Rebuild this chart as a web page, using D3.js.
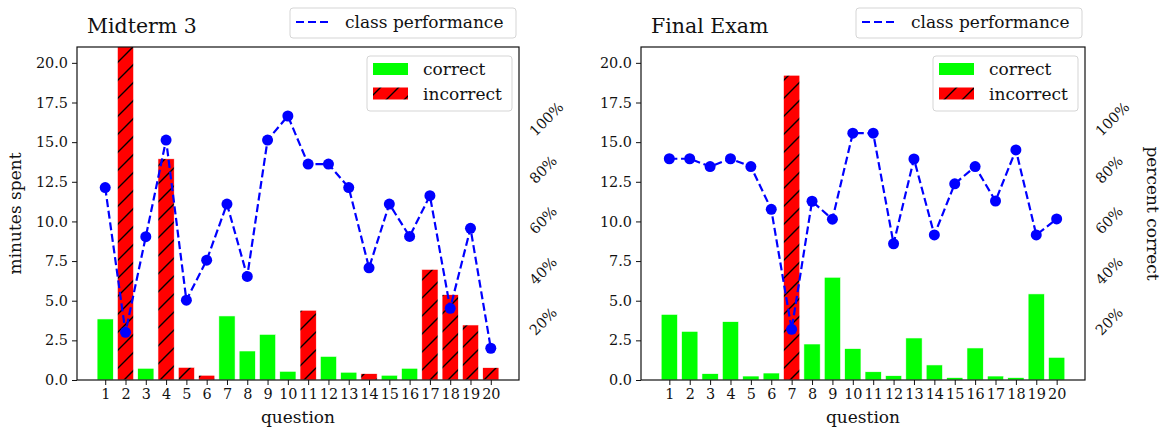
<!DOCTYPE html>
<html>
<head>
<meta charset="utf-8">
<script src="https://cdn.jsdelivr.net/npm/d3@7"></script>
<style>
  html, body { margin: 0; padding: 0; background: #fff; }
  svg { display: block; font-family: "DejaVu Serif", serif; }
</style>
</head>
<body>
<svg id="chart" width="1167" height="430"></svg>
<script>
// ---------------- data ----------------
const questions = d3.range(1, 21);
const midtermMinutes = [3.85, 24, 0.74, 13.95, 0.8, 0.3, 4.04, 1.83, 2.88, 0.55,
                        4.4, 1.49, 0.49, 0.4, 0.3, 0.74, 6.98, 5.38, 3.47, 0.78];
const midtermCorrect = [true, false, true, false, false, false, true, true, true, true,
                        false, true, true, false, true, true, false, false, false, false];
const midtermPct = [0.717, 0.145, 0.523, 0.905, 0.272, 0.43, 0.652, 0.366, 0.905, 1.0,
                    0.81, 0.81, 0.717, 0.40, 0.652, 0.524, 0.685, 0.24, 0.556, 0.082];
const finalMinutes = [4.14, 3.07, 0.4, 3.68, 0.25, 0.44, 19.22, 2.27, 6.48, 1.98,
                      0.52, 0.27, 2.65, 0.95, 0.15, 2.02, 0.25, 0.15, 5.43, 1.43];
const finalCorrect = [true, true, true, true, true, true, false, true, true, true,
                      true, true, true, true, true, true, true, true, true, true];
const finalPct = [0.831, 0.831, 0.80, 0.831, 0.80, 0.631, 0.157, 0.663, 0.592, 0.932,
                  0.932, 0.495, 0.83, 0.53, 0.732, 0.80, 0.664, 0.866, 0.53, 0.593];
const minuteTicks = [0, 2.5, 5, 7.5, 10, 12.5, 15, 17.5, 20];
const pctTicks = [0.2, 0.4, 0.6, 0.8, 1.0];
const titles = ["Midterm 3", "Final Exam"];
const legendLine = "class performance";
const legendBars = ["correct", "incorrect"];

// ---------------- layout ----------------
const svg = d3.select("#chart");
const plotTop = 47, plotBottom = 380;
const panels = [
  { left: 77, right: 519, title: titles[0], minutes: midtermMinutes, correct: midtermCorrect, pct: midtermPct, ylabel: "minutes spent", y2label: null },
  { left: 641, right: 1085, title: titles[1], minutes: finalMinutes, correct: finalCorrect, pct: finalPct, ylabel: null, y2label: "percent correct" }
];
const GREEN = "#00ff00", RED = "#ff0000", BLUE = "#0000ff";
const tickFont = "14.4px", labelFont = "17px";
const TXT = "#111";

// hatch pattern
const defs = svg.append("defs");
const pat = defs.append("pattern").attr("id", "hatch")
  .attr("patternUnits", "userSpaceOnUse").attr("width", 18).attr("height", 18);
pat.append("rect").attr("width", 18).attr("height", 18).attr("fill", RED);
pat.append("path").attr("d", "M-4.5,4.5 L4.5,-4.5 M0,18 L18,0 M13.5,22.5 L22.5,13.5")
  .attr("stroke", "#000").attr("stroke-width", 1.4);

panels.forEach((p, pi) => {
  const x = d3.scaleLinear().domain([-0.39, 21.39]).range([p.left, p.right]);
  const y = d3.scaleLinear().domain([0, 21]).range([plotBottom, plotTop]);
  const y2 = d3.scaleLinear().domain([-0.0435, 1.2727]).range([plotBottom, plotTop]);
  const g = svg.append("g");

  const clipId = "clip" + pi;
  defs.append("clipPath").attr("id", clipId).append("rect")
    .attr("x", p.left).attr("y", plotTop).attr("width", p.right - p.left).attr("height", plotBottom - plotTop);

  // bars
  const bw = x(0.8) - x(0);
  g.append("g").attr("clip-path", `url(#${clipId})`)
    .selectAll("rect").data(questions).join("rect")
    .attr("x", d => x(d) - bw / 2)
    .attr("width", bw)
    .attr("y", (d, i) => y(p.minutes[i]))
    .attr("height", (d, i) => y(0) - y(p.minutes[i]))
    .attr("fill", (d, i) => p.correct[i] ? GREEN : "url(#hatch)")
    .attr("stroke", "#fff").attr("stroke-width", 0.6);

  // left axis
  const yAxis = d3.axisLeft(y).tickValues(minuteTicks).tickFormat(d3.format(".1f")).tickSizeOuter(0).tickSize(5).tickPadding(4);
  const ya = g.append("g").attr("transform", `translate(${p.left},0)`).call(yAxis);
  ya.select(".domain").remove();
  ya.selectAll("text").attr("font-size", tickFont).attr("font-family", "DejaVu Serif").attr("fill", TXT);
  ya.selectAll("line").attr("stroke", TXT);

  // x axis
  const xAxis = d3.axisBottom(x).tickValues(questions).tickFormat(d3.format("d")).tickSizeOuter(0).tickSize(5).tickPadding(4);
  const xa = g.append("g").attr("transform", `translate(0,${plotBottom})`).call(xAxis);
  xa.select(".domain").remove();
  xa.selectAll("text").attr("font-size", tickFont).attr("font-family", "DejaVu Serif").attr("fill", TXT);
  xa.selectAll("line").attr("stroke", TXT);

  // line
  const lineGen = d3.line().x((d, i) => x(questions[i])).y(d => y2(d));
  g.append("path").datum(p.pct).attr("d", lineGen)
    .attr("fill", "none").attr("stroke", BLUE).attr("stroke-width", 2.2)
    .attr("stroke-dasharray", "8,3.7");
  g.append("g").selectAll("circle").data(p.pct).join("circle")
    .attr("cx", (d, i) => x(questions[i])).attr("cy", d => y2(d)).attr("r", 5.5)
    .attr("fill", BLUE);

  // frame
  g.append("rect").attr("x", p.left).attr("y", plotTop)
    .attr("width", p.right - p.left).attr("height", plotBottom - plotTop)
    .attr("fill", "none").attr("stroke", "#111").attr("stroke-width", 1.2);

  // right percent labels, rotated 45
  pctTicks.forEach(t => {
    const txt = g.append("text").text(d3.format(".0%")(t))
      .attr("font-size", tickFont).attr("fill", TXT)
      .attr("text-anchor", "middle").attr("dominant-baseline", "central");
    const w = txt.node().getComputedTextLength();
    const h = 11;
    const bb = (w + h) * Math.SQRT1_2;
    txt.attr("transform", `translate(${p.right + 9 + bb / 2},${y2(t) + 3}) rotate(-45)`);
  });

  // title
  g.append("text").text(p.title).attr("x", p.left + 10).attr("y", plotTop - 14)
    .attr("font-size", "20.5px").attr("fill", TXT);

  // axis labels
  g.append("text").text("question").attr("x", (p.left + p.right) / 2).attr("y", plotBottom + 43)
    .attr("text-anchor", "middle").attr("font-size", labelFont).attr("fill", TXT);
  if (p.ylabel) {
    g.append("text").text(p.ylabel)
      .attr("transform", `translate(${p.left - 56},${(plotTop + plotBottom) / 2}) rotate(-90)`)
      .attr("text-anchor", "middle").attr("font-size", labelFont).attr("fill", TXT);
  }
  if (p.y2label) {
    g.append("text").text(p.y2label)
      .attr("transform", `translate(${p.right + 62},${(plotTop + plotBottom) / 2}) rotate(90)`)
      .attr("text-anchor", "middle").attr("font-size", labelFont).attr("fill", TXT);
  }

  // line legend (above axes, right)
  const lg = g.append("g");
  const lx0 = p.right - 229, lx1 = p.right - 3;
  lg.append("rect").attr("x", lx0).attr("y", 8).attr("width", lx1 - lx0).attr("height", 30)
    .attr("rx", 3).attr("fill", "#fff").attr("stroke", "#d5d5d5");
  lg.append("line").attr("x1", lx0 + 6).attr("x2", lx0 + 40).attr("y1", 22).attr("y2", 22)
    .attr("stroke", BLUE).attr("stroke-width", 2.2).attr("stroke-dasharray", "8,4");
  lg.append("text").text(legendLine).attr("x", lx0 + 55).attr("y", 22)
    .attr("dominant-baseline", "central").attr("font-size", labelFont).attr("fill", TXT);

  // bar legend (inside upper right)
  const bg = g.append("g");
  const bx0 = p.right - 152, bx1 = p.right - 7;
  bg.append("rect").attr("x", bx0).attr("y", 56).attr("width", bx1 - bx0).attr("height", 55)
    .attr("rx", 3).attr("fill", "#fff").attr("fill-opacity", 0.85).attr("stroke", "#d5d5d5");
  [GREEN, "url(#hatch)"].forEach((c, k) => {
    const cy = 69 + k * 24.5;
    bg.append("rect").attr("x", bx0 + 6).attr("y", cy - 6).attr("width", 35).attr("height", 12)
      .attr("fill", c);
    bg.append("text").text(legendBars[k]).attr("x", bx0 + 56).attr("y", cy)
      .attr("dominant-baseline", "central").attr("font-size", labelFont).attr("fill", TXT);
  });
});
</script>
</body>
</html>
